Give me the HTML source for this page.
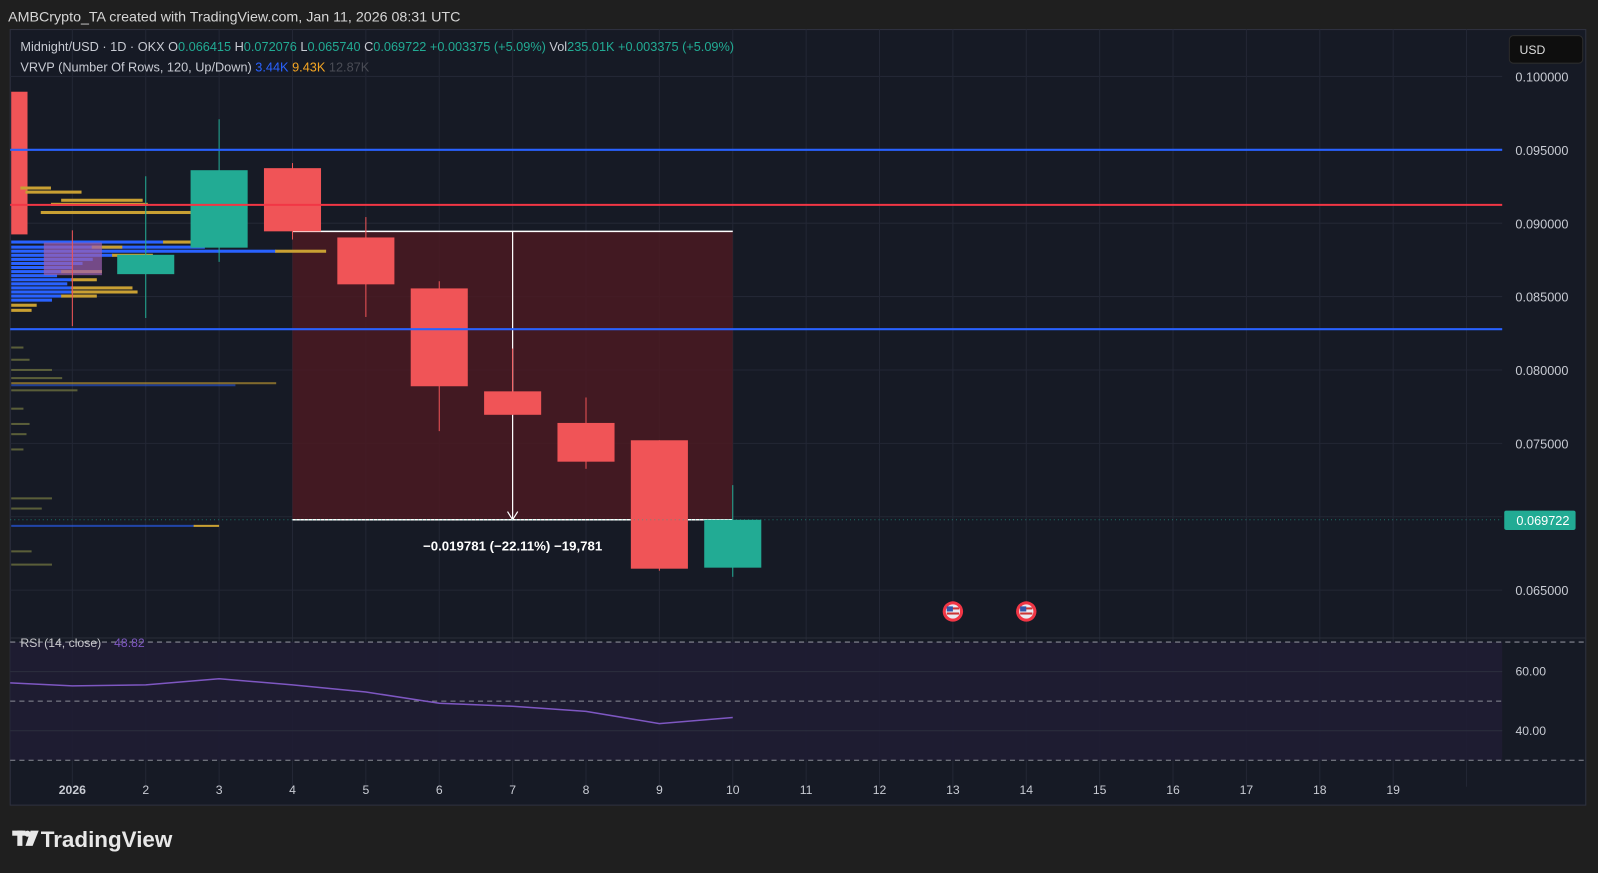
<!DOCTYPE html>
<html><head><meta charset="utf-8"><style>
body{margin:0;background:#1f1f1f;font-family:"Liberation Sans",sans-serif;}
svg{display:block}
</style></head><body>
<svg width="1598" height="873" viewBox="0 0 1568 856.6" preserveAspectRatio="none" xmlns="http://www.w3.org/2000/svg" font-family="Liberation Sans, sans-serif">
<rect width="1568" height="857" fill="#1f1f1f"/>
<text x="8" y="21" fill="#d6d6d6" font-size="14">AMBCrypto_TA created with TradingView.com, Jan 11, 2026 08:31 UTC</text>
<rect x="10" y="29" width="1546" height="761" fill="#161a25" stroke="#2f3240"/>
<g stroke="#232735" stroke-width="1">
<line x1="10" y1="75" x2="1474" y2="75"/><line x1="10" y1="219" x2="1474" y2="219"/><line x1="10" y1="291" x2="1474" y2="291"/><line x1="10" y1="363" x2="1474" y2="363"/><line x1="10" y1="435" x2="1474" y2="435"/><line x1="10" y1="507" x2="1474" y2="507"/><line x1="10" y1="579" x2="1474" y2="579"/>
<line x1="71" y1="29" x2="71" y2="772"/><line x1="143" y1="29" x2="143" y2="772"/><line x1="215" y1="29" x2="215" y2="772"/><line x1="287" y1="29" x2="287" y2="772"/><line x1="359" y1="29" x2="359" y2="772"/><line x1="431" y1="29" x2="431" y2="772"/><line x1="503" y1="29" x2="503" y2="772"/><line x1="575" y1="29" x2="575" y2="772"/><line x1="647" y1="29" x2="647" y2="772"/><line x1="719" y1="29" x2="719" y2="772"/><line x1="791" y1="29" x2="791" y2="772"/><line x1="863" y1="29" x2="863" y2="772"/><line x1="935" y1="29" x2="935" y2="772"/><line x1="1007" y1="29" x2="1007" y2="772"/><line x1="1079" y1="29" x2="1079" y2="772"/><line x1="1151" y1="29" x2="1151" y2="772"/><line x1="1223" y1="29" x2="1223" y2="772"/><line x1="1295" y1="29" x2="1295" y2="772"/><line x1="1367" y1="29" x2="1367" y2="772"/><line x1="1439" y1="29" x2="1439" y2="772"/>
</g>
<rect x="287" y="227" width="432" height="283" fill="#4a1a22" opacity="0.85"/>
<line x1="287" y1="227" x2="719" y2="227" stroke="#fff" stroke-width="1.5"/>
<line x1="287" y1="510" x2="719" y2="510" stroke="#fff" stroke-width="1.5"/>
<line x1="503" y1="227" x2="503" y2="509" stroke="#fff" stroke-width="1.2"/>
<path d="M498 502 L503 510 L508 502" stroke="#fff" fill="none" stroke-width="1.2"/>
<text x="503" y="540" fill="#fff" font-size="13" text-anchor="middle" font-weight="bold">−0.019781 (−22.11%) −19,781</text>
<rect x="11" y="90" width="16" height="140" fill="#f05457"/>
<g fill="#2962ff">
<rect x="11" y="236" width="150" height="3"/><rect x="11" y="241" width="190" height="3"/><rect x="11" y="245" width="260" height="3"/><rect x="11" y="249" width="100" height="3"/><rect x="11" y="253" width="80" height="3"/><rect x="11" y="257" width="70" height="3"/><rect x="11" y="261" width="60" height="3"/><rect x="11" y="265" width="50" height="3"/><rect x="11" y="269" width="45" height="3"/><rect x="11" y="273" width="60" height="3"/><rect x="11" y="277" width="55" height="3"/><rect x="11" y="281" width="60" height="3"/><rect x="11" y="285" width="75" height="3"/><rect x="11" y="289" width="50" height="3"/><rect x="11" y="293" width="40" height="3"/><rect x="11" y="377" width="220" height="2" opacity="0.5"/><rect x="11" y="515" width="180" height="2" opacity="0.6"/>
</g>
<g fill="#c9a033">
<rect x="60" y="195" width="80" height="3"/><rect x="50" y="199" width="95" height="3"/><rect x="40" y="207" width="160" height="3"/><rect x="160" y="236" width="30" height="3"/><rect x="90" y="241" width="30" height="3"/><rect x="270" y="245" width="50" height="3"/><rect x="110" y="249" width="40" height="3"/><rect x="60" y="265" width="40" height="3"/><rect x="70" y="273" width="25" height="3"/><rect x="70" y="281" width="60" height="3"/><rect x="70" y="285" width="65" height="3"/><rect x="60" y="289" width="35" height="3"/><rect x="11" y="298" width="25" height="3"/><rect x="11" y="303" width="20" height="3"/><rect x="11" y="375" width="260" height="2" opacity="0.6"/><rect x="190" y="515" width="25" height="2"/>
<rect x="20" y="183" width="30" height="3"/><rect x="25" y="187" width="55" height="3"/>
</g>
<g fill="#6b6f3f" opacity="0.8">
<rect x="11" y="340" width="12" height="2"/><rect x="11" y="352" width="18" height="2"/><rect x="11" y="362" width="40" height="2"/><rect x="11" y="370" width="50" height="2"/><rect x="11" y="382" width="65" height="2"/><rect x="11" y="400" width="12" height="2"/><rect x="11" y="415" width="18" height="2"/><rect x="11" y="425" width="15" height="2"/><rect x="11" y="440" width="12" height="2"/><rect x="11" y="488" width="40" height="2"/><rect x="11" y="498" width="30" height="2"/><rect x="11" y="540" width="20" height="2"/><rect x="11" y="553" width="40" height="2"/>
</g>
<rect x="43" y="238" width="57" height="32" fill="#9c5fb0" opacity="0.7"/>
<g stroke-width="1">
<line x1="71" y1="226" x2="71" y2="320" stroke="#f05457"/>
<line x1="143" y1="173" x2="143" y2="312" stroke="#22ab94"/><rect x="115" y="250" width="56" height="19" fill="#22ab94"/>
<line x1="215" y1="117" x2="215" y2="257" stroke="#22ab94"/><rect x="187" y="167" width="56" height="76" fill="#22ab94"/>
<line x1="287" y1="160" x2="287" y2="235" stroke="#f05457"/><rect x="259" y="165" width="56" height="62" fill="#f05457"/>
<line x1="359" y1="213" x2="359" y2="311" stroke="#f05457"/><rect x="331" y="233" width="56" height="46" fill="#f05457"/>
<line x1="431" y1="276" x2="431" y2="423" stroke="#f05457"/><rect x="403" y="283" width="56" height="96" fill="#f05457"/>
<line x1="503" y1="342" x2="503" y2="407" stroke="#f05457"/><rect x="475" y="384" width="56" height="23" fill="#f05457"/>
<line x1="575" y1="390" x2="575" y2="460" stroke="#f05457"/><rect x="547" y="415" width="56" height="38" fill="#f05457"/>
<line x1="647" y1="432" x2="647" y2="560" stroke="#f05457"/><rect x="619" y="432" width="56" height="126" fill="#f05457"/>
<line x1="719" y1="476" x2="719" y2="566" stroke="#22ab94"/><rect x="691" y="510" width="56" height="47" fill="#22ab94"/>
</g>
<line x1="10" y1="147" x2="1474" y2="147" stroke="#2962ff" stroke-width="2"/>
<line x1="10" y1="201" x2="1474" y2="201" stroke="#f23645" stroke-width="2"/>
<line x1="10" y1="323" x2="1474" y2="323" stroke="#2962ff" stroke-width="2"/>
<line x1="10" y1="510" x2="1474" y2="510" stroke="#22ab94" stroke-dasharray="1 3" opacity="0.6"/>
<g><circle cx="935" cy="600" r="10" fill="#f23645"/><circle cx="935" cy="600" r="7" fill="#e8e8f0"/><rect x="929" y="596" width="12" height="2" fill="#c33"/><rect x="929" y="601" width="12" height="2" fill="#c33"/><rect x="929" y="595" width="6" height="5" fill="#3355aa"/></g>
<g><circle cx="1007" cy="600" r="10" fill="#f23645"/><circle cx="1007" cy="600" r="7" fill="#e8e8f0"/><rect x="1001" y="596" width="12" height="2" fill="#c33"/><rect x="1001" y="601" width="12" height="2" fill="#c33"/><rect x="1001" y="595" width="6" height="5" fill="#3355aa"/></g>
<line x1="10" y1="626" x2="1556" y2="626" stroke="#2a2e39"/>
<rect x="10" y="630" width="1464" height="116" fill="#1f1d33" opacity="0.9"/>
<line x1="10" y1="659" x2="1474" y2="659" stroke="#2c2f3e"/><line x1="10" y1="717" x2="1474" y2="717" stroke="#2c2f3e"/>
<g stroke="#8a8c96" stroke-dasharray="5 4"><line x1="10" y1="630" x2="1556" y2="630"/><line x1="10" y1="688" x2="1474" y2="688"/><line x1="10" y1="746" x2="1556" y2="746"/></g>
<polyline points="10,670 71,673 143,672 215,666 287,672 359,679 431,690 503,693 575,698 647,710 719,704" fill="none" stroke="#7e57c2" stroke-width="1.5"/>
<text x="20" y="635" fill="#c8c8cc" font-size="12">RSI (14, close)</text><text x="112" y="635" fill="#7e57c2" font-size="12">48.82</text>
<g fill="#c8cbd3" font-size="12"><text x="1487" y="663">60.00</text><text x="1487" y="721">40.00</text></g>
<g fill="#c8cbd3" font-size="12.5" text-anchor="end">
<text x="1539" y="80">0.100000</text><text x="1539" y="152">0.095000</text><text x="1539" y="224">0.090000</text><text x="1539" y="296">0.085000</text><text x="1539" y="368">0.080000</text><text x="1539" y="440">0.075000</text><text x="1539" y="584">0.065000</text>
</g>
<rect x="1476" y="501" width="70" height="19" rx="2" fill="#22ab94"/>
<text x="1540" y="515" fill="#fff" font-size="12.5" text-anchor="end">0.069722</text>
<rect x="1481" y="35" width="72" height="27" rx="4" fill="#0e0e0e" stroke="#2c2c2c"/>
<text x="1491" y="53" fill="#ddd" font-size="12">USD</text>
<g fill="#c8cbd3" font-size="12" text-anchor="middle">
<text x="71" y="779" font-weight="bold">2026</text><text x="143" y="779">2</text><text x="215" y="779">3</text><text x="287" y="779">4</text><text x="359" y="779">5</text><text x="431" y="779">6</text><text x="503" y="779">7</text><text x="575" y="779">8</text><text x="647" y="779">9</text><text x="719" y="779">10</text><text x="791" y="779">11</text><text x="863" y="779">12</text><text x="935" y="779">13</text><text x="1007" y="779">14</text><text x="1079" y="779">15</text><text x="1151" y="779">16</text><text x="1223" y="779">17</text><text x="1295" y="779">18</text><text x="1367" y="779">19</text>
</g>
<text x="20" y="50" font-size="12.5" fill="#c8cbd3">Midnight/USD · 1D · OKX <tspan>O</tspan><tspan fill="#22ab94">0.066415</tspan> <tspan>H</tspan><tspan fill="#22ab94">0.072076</tspan> <tspan>L</tspan><tspan fill="#22ab94">0.065740</tspan> <tspan>C</tspan><tspan fill="#22ab94">0.069722</tspan> <tspan fill="#22ab94">+0.003375 (+5.09%)</tspan> <tspan>Vol</tspan><tspan fill="#22ab94">235.01K</tspan> <tspan fill="#22ab94">+0.003375 (+5.09%)</tspan></text>
<text x="20" y="70" font-size="12.5" fill="#c8cbd3">VRVP (Number Of Rows, 120, Up/Down) <tspan fill="#2962ff">3.44K</tspan> <tspan fill="#f5a623">9.43K</tspan> <tspan fill="#4a4c55">12.87K</tspan></text>
<g fill="#e8e8e8"><rect x="12" y="815" width="13" height="5"/><rect x="17" y="815" width="5" height="15"/><circle cx="27" cy="818" r="3"/><path d="M30 815 L38 815 L32 830 L25 830 Z"/></g>
<text x="40" y="831" fill="#e8e8e8" font-size="22" font-weight="bold">TradingView</text>
</svg>
</body></html>
